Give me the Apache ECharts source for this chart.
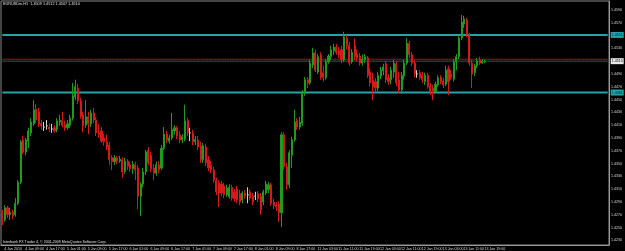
<!DOCTYPE html>
<html>
<head>
<meta charset="utf-8">
<script src="https://cdn.jsdelivr.net/npm/echarts@6/dist/echarts.min.js"></script>
<style>
  html, body { margin: 0; padding: 0; background: #000; }
  #chart { width: 625px; height: 251px; }
</style>
</head>
<body>
<div id="chart"></div>
<script>
// EURUSD H1, 4 Jan 2010 - 13 Jan 2010
const sessions = [
  ['4 Jan', 1, 23], ['5 Jan', 0, 23], ['6 Jan', 0, 23], ['7 Jan', 0, 23], ['8 Jan', 0, 21],
  ['11 Jan', 0, 23], ['12 Jan', 0, 23], ['13 Jan', 0, 20]
]
const timeLabels = [
  '4 Jan 2010', '4 Jan 09:00', '4 Jan 17:00', '5 Jan 01:00', '5 Jan 09:00', '5 Jan 17:00',
  '6 Jan 01:00', '6 Jan 09:00', '6 Jan 17:00', '7 Jan 01:00', '7 Jan 09:00', '7 Jan 17:00',
  '8 Jan 01:00', '8 Jan 09:00', '8 Jan 17:00', '11 Jan 03:00', '11 Jan 11:00', '11 Jan 19:00',
  '12 Jan 03:00', '12 Jan 11:00', '12 Jan 19:00', '13 Jan 03:00', '13 Jan 11:00', '13 Jan 19:00'
]
const priceLabels = [
  1.4590, 1.4570, 1.4530, 1.4490, 1.4470, 1.4450, 1.4430, 1.4410, 1.4390, 1.4370,
  1.4350, 1.4330, 1.4310, 1.4290, 1.4270, 1.4250, 1.4230
]
const levels = [1.4551, 1.4461]
const askPrice = 1.4513
const bidPrice = 1.4510

// [open, close, low, high]
const ohlc = [
  [1.4273,1.4259,1.4254,1.4278],[1.4262,1.4281,1.4259,1.4285],[1.4281,1.4270,1.4265,1.4284],[1.4270,1.4274,1.4262,1.4281],
  [1.4274,1.4268,1.4263,1.4278],[1.4270,1.4288,1.4267,1.4296],[1.4288,1.4321,1.4285,1.4324],[1.4321,1.4384,1.4318,1.4387],
  [1.4387,1.4368,1.4365,1.4393],[1.4368,1.4387,1.4363,1.4390],[1.4385,1.4401,1.4374,1.4406],[1.4398,1.4415,1.4393,1.4421],
  [1.4412,1.4434,1.4409,1.4449],[1.4435,1.4418,1.4413,1.4443],[1.4431,1.4412,1.4407,1.4437],[1.4413,1.4409,1.4403,1.4418],
  [1.4407,1.4407,1.4401,1.4415],[1.4409,1.4409,1.4403,1.4418],[1.4407,1.4404,1.4399,1.4413],[1.4404,1.4404,1.4398,1.4412],
  [1.4406,1.4401,1.4398,1.4410],[1.4403,1.4417,1.4399,1.4421],[1.4415,1.4418,1.4409,1.4426],[1.4417,1.4410,1.4407,1.4431],
  [1.4410,1.4406,1.4401,1.4417],[1.4406,1.4412,1.4403,1.4418],[1.4410,1.4421,1.4406,1.4426],[1.4421,1.4456,1.4417,1.4476],
  [1.4454,1.4470,1.4449,1.4481],[1.4468,1.4448,1.4443,1.4474],[1.4448,1.4424,1.4420,1.4453],[1.4426,1.4409,1.4399,1.4431],
  [1.4410,1.4423,1.4406,1.4449],[1.4423,1.4412,1.4396,1.4431],[1.4412,1.4429,1.4407,1.4434],[1.4429,1.4418,1.4413,1.4437],
  [1.4418,1.4398,1.4393,1.4423],[1.4398,1.4395,1.4390,1.4412],[1.4401,1.4385,1.4382,1.4407],[1.4390,1.4384,1.4378,1.4396],
  [1.4384,1.4376,1.4371,1.4395],[1.4379,1.4356,1.4348,1.4384],[1.4359,1.4353,1.4340,1.4363],[1.4353,1.4359,1.4348,1.4363],
  [1.4359,1.4354,1.4349,1.4362],[1.4354,1.4357,1.4351,1.4362],[1.4356,1.4337,1.4328,1.4360],[1.4338,1.4354,1.4334,1.4359],
  [1.4354,1.4346,1.4340,1.4357],[1.4348,1.4342,1.4337,1.4353],[1.4342,1.4349,1.4334,1.4354],[1.4348,1.4340,1.4324,1.4353],
  [1.4343,1.4299,1.4279,1.4348],[1.4299,1.4318,1.4268,1.4321],[1.4318,1.4337,1.4313,1.4343],[1.4337,1.4368,1.4332,1.4371],
  [1.4371,1.4351,1.4348,1.4376],[1.4363,1.4342,1.4337,1.4368],[1.4343,1.4335,1.4324,1.4349],[1.4335,1.4348,1.4331,1.4353],
  [1.4348,1.4340,1.4335,1.4354],[1.4343,1.4374,1.4340,1.4379],[1.4374,1.4396,1.4371,1.4407],[1.4396,1.4387,1.4382,1.4401],
  [1.4385,1.4390,1.4381,1.4395],[1.4390,1.4403,1.4387,1.4429],[1.4401,1.4406,1.4395,1.4410],[1.4406,1.4393,1.4388,1.4409],
  [1.4395,1.4387,1.4382,1.4401],[1.4387,1.4392,1.4382,1.4396],[1.4388,1.4417,1.4385,1.4442],[1.4417,1.4398,1.4393,1.4421],
  [1.4398,1.4398,1.4385,1.4406],[1.4398,1.4384,1.4379,1.4403],[1.4384,1.4388,1.4379,1.4393],[1.4387,1.4376,1.4371,1.4393],
  [1.4378,1.4356,1.4351,1.4384],[1.4356,1.4378,1.4351,1.4382],[1.4376,1.4351,1.4346,1.4381],[1.4356,1.4343,1.4338,1.4362],
  [1.4348,1.4340,1.4335,1.4354],[1.4340,1.4324,1.4320,1.4345],[1.4324,1.4306,1.4301,1.4328],[1.4320,1.4304,1.4282,1.4324],
  [1.4318,1.4304,1.4299,1.4323],[1.4315,1.4301,1.4296,1.4320],[1.4301,1.4312,1.4298,1.4317],[1.4298,1.4313,1.4295,1.4318],
  [1.4313,1.4296,1.4292,1.4317],[1.4306,1.4295,1.4290,1.4310],[1.4310,1.4293,1.4288,1.4315],[1.4303,1.4290,1.4285,1.4309],
  [1.4293,1.4304,1.4288,1.4307],[1.4304,1.4299,1.4295,1.4309],[1.4301,1.4301,1.4288,1.4313],[1.4306,1.4296,1.4292,1.4310],
  [1.4299,1.4290,1.4285,1.4304],[1.4299,1.4299,1.4293,1.4306],[1.4303,1.4295,1.4290,1.4307],[1.4299,1.4278,1.4270,1.4304],
  [1.4290,1.4306,1.4285,1.4309],[1.4304,1.4318,1.4301,1.4323],[1.4309,1.4317,1.4304,1.4321],[1.4317,1.4288,1.4284,1.4320],
  [1.4290,1.4284,1.4279,1.4295],[1.4285,1.4282,1.4276,1.4290],[1.4287,1.4273,1.4259,1.4292],[1.4273,1.4395,1.4251,1.4399],
  [1.4395,1.4345,1.4340,1.4399],[1.4345,1.4317,1.4309,1.4351],[1.4317,1.4367,1.4312,1.4371],[1.4363,1.4387,1.4343,1.4392],
  [1.4387,1.4415,1.4384,1.4434],[1.4417,1.4407,1.4403,1.4421],[1.4407,1.4415,1.4403,1.4423],[1.4413,1.4460,1.4409,1.4465],
  [1.4460,1.4481,1.4456,1.4485],[1.4481,1.4476,1.4468,1.4485],[1.4476,1.4507,1.4473,1.4512],[1.4504,1.4523,1.4499,1.4531],
  [1.4523,1.4496,1.4493,1.4528],[1.4493,1.4517,1.4490,1.4521],[1.4520,1.4485,1.4481,1.4524],[1.4492,1.4484,1.4478,1.4503],
  [1.4484,1.4509,1.4481,1.4513],[1.4509,1.4518,1.4506,1.4521],[1.4517,1.4528,1.4512,1.4534],[1.4526,1.4532,1.4520,1.4537],
  [1.4532,1.4524,1.4520,1.4537],[1.4526,1.4520,1.4515,1.4532],[1.4528,1.4512,1.4507,1.4534],[1.4512,1.4548,1.4509,1.4556],
  [1.4546,1.4534,1.4528,1.4551],[1.4535,1.4507,1.4503,1.4540],[1.4509,1.4524,1.4506,1.4529],[1.4535,1.4517,1.4512,1.4545],
  [1.4521,1.4515,1.4510,1.4528],[1.4518,1.4507,1.4503,1.4523],[1.4507,1.4513,1.4503,1.4520],[1.4512,1.4517,1.4507,1.4521],
  [1.4515,1.4488,1.4484,1.4518],[1.4493,1.4476,1.4471,1.4499],[1.4481,1.4470,1.4449,1.4492],[1.4478,1.4468,1.4462,1.4484],
  [1.4468,1.4488,1.4463,1.4493],[1.4487,1.4496,1.4482,1.4501],[1.4495,1.4501,1.4488,1.4506],[1.4506,1.4481,1.4476,1.4510],
  [1.4484,1.4478,1.4473,1.4490],[1.4481,1.4496,1.4474,1.4501],[1.4493,1.4507,1.4484,1.4512],[1.4506,1.4476,1.4471,1.4510],
  [1.4481,1.4465,1.4460,1.4493],[1.4465,1.4488,1.4459,1.4493],[1.4487,1.4507,1.4481,1.4512],[1.4507,1.4538,1.4504,1.4546],
  [1.4538,1.4520,1.4515,1.4542],[1.4520,1.4507,1.4503,1.4524],[1.4507,1.4490,1.4485,1.4512],[1.4490,1.4490,1.4484,1.4496],
  [1.4492,1.4484,1.4481,1.4496],[1.4488,1.4481,1.4476,1.4493],[1.4478,1.4488,1.4473,1.4492],[1.4488,1.4470,1.4467,1.4492],
  [1.4471,1.4462,1.4457,1.4476],[1.4468,1.4462,1.4449,1.4473],[1.4462,1.4474,1.4459,1.4478],[1.4473,1.4484,1.4470,1.4488],
  [1.4485,1.4478,1.4474,1.4488],[1.4479,1.4473,1.4468,1.4484],[1.4474,1.4496,1.4471,1.4503],[1.4498,1.4478,1.4457,1.4503],
  [1.4490,1.4485,1.4481,1.4496],[1.4482,1.4509,1.4478,1.4513],[1.4509,1.4517,1.4496,1.4521],[1.4517,1.4546,1.4513,1.4549],
  [1.4546,1.4571,1.4543,1.4582],[1.4568,1.4576,1.4562,1.4581],[1.4574,1.4551,1.4548,1.4578],[1.4551,1.4507,1.4503,1.4554],
  [1.4507,1.4490,1.4468,1.4512],[1.4492,1.4503,1.4487,1.4506],[1.4503,1.4510,1.4499,1.4515],[1.4512,1.4507,1.4504,1.4517],
  [1.4507,1.4510,1.4506,1.4513],[1.4509,1.4510,1.4507,1.4512]
]

const times = []
sessions.forEach(s => {
  for (let h = s[1]; h <= s[2]; h++) times.push(s[0] + ' ' + String(h).padStart(2, '0') + ':00')
})
const barCount = times.length
// chart shift: empty room on the right
const categories = times.concat(new Array(47).fill(''))

const labelFont = 'Liberation Sans'
const showTime = (index) => index % 8 === 0 && index < barCount

// a flat line across the whole chart, with its price in a box on the axis
const levelLine = (price, color, width, tag) => ({
  type: 'line',
  data: categories.map(() => price),
  symbol: 'none',
  silent: true,
  z: 1,
  lineStyle: { color: color, width: width },
  endLabel: tag ? {
    show: true,
    distance: 3,
    formatter: () => price.toFixed(4),
    backgroundColor: tag[0],
    color: tag[1],
    fontSize: 3.6,
    fontFamily: labelFont,
    padding: [1, 1, 1, 1]
  } : { show: false }
})

const option = {
  backgroundColor: '#000',
  animation: false,
  grid: {
    left: 1, right: 13, top: 1, bottom: 6,
    show: true,
    borderColor: '#8a8a8a',
    borderWidth: 1
  },
  xAxis: {
    type: 'category',
    data: categories,
    axisLine: { lineStyle: { color: '#9a9a9a' } },
    axisTick: {
      interval: showTime,
      length: 4,
      lineStyle: { color: '#9a9a9a' }
    },
    axisLabel: {
      interval: showTime,
      formatter: (value, index) => timeLabels[index / 8] || '',
      color: '#d8d8d8',
      fontSize: 3.6,
      fontFamily: labelFont,
      align: 'left',
      margin: 2,
      padding: [0, 0, 0, 2]
    },
    splitLine: { show: false }
  },
  yAxis: {
    type: 'value',
    position: 'right',
    min: 1.42228,
    max: 1.4604,
    axisLine: { show: true, lineStyle: { color: '#9a9a9a' } },
    axisTick: { show: false },
    splitLine: { show: false },
    axisLabel: {
      customValues: priceLabels,
      formatter: v => v.toFixed(4),
      color: '#d8d8d8',
      fontSize: 3.6,
      fontFamily: labelFont,
      margin: 2
    }
  },
  graphic: [
    {
      type: 'text', left: 3, top: 2,
      style: { text: 'EURUSDm,H1  1.4509 1.4512 1.4507 1.4510', fill: '#e0e0e0', fontSize: 3.8, fontFamily: labelFont }
    },
    {
      type: 'text', left: 3, top: 240,
      style: { text: 'Interbank FX Trader 4, \u00a9 2001-2009 MetaQuotes Software Corp.', fill: '#e0e0e0', fontSize: 3.6, fontFamily: labelFont }
    }
  ],
  series: [
    levelLine(askPrice, '#a01818', 1, null),
    levelLine(bidPrice, '#4a545a', 1, ['#e8e8e8', '#000']),
    levelLine(levels[0], '#27a3a8', 2, ['#27a3a8', '#002020']),
    levelLine(levels[1], '#27a3a8', 2, ['#27a3a8', '#002020']),
    {
      type: 'candlestick',
      data: ohlc,
      barWidth: 1.6,
      z: 2,
      itemStyle: {
        color: '#1f9b1f',
        color0: '#d41a1a',
        borderColor: '#1f9b1f',
        borderColor0: '#d41a1a',
        borderColorDoji: '#d0d0d0',
        borderWidth: 1
      }
    }
  ]
}

echarts.init(document.getElementById('chart')).setOption(option)
</script>
</body>
</html>
